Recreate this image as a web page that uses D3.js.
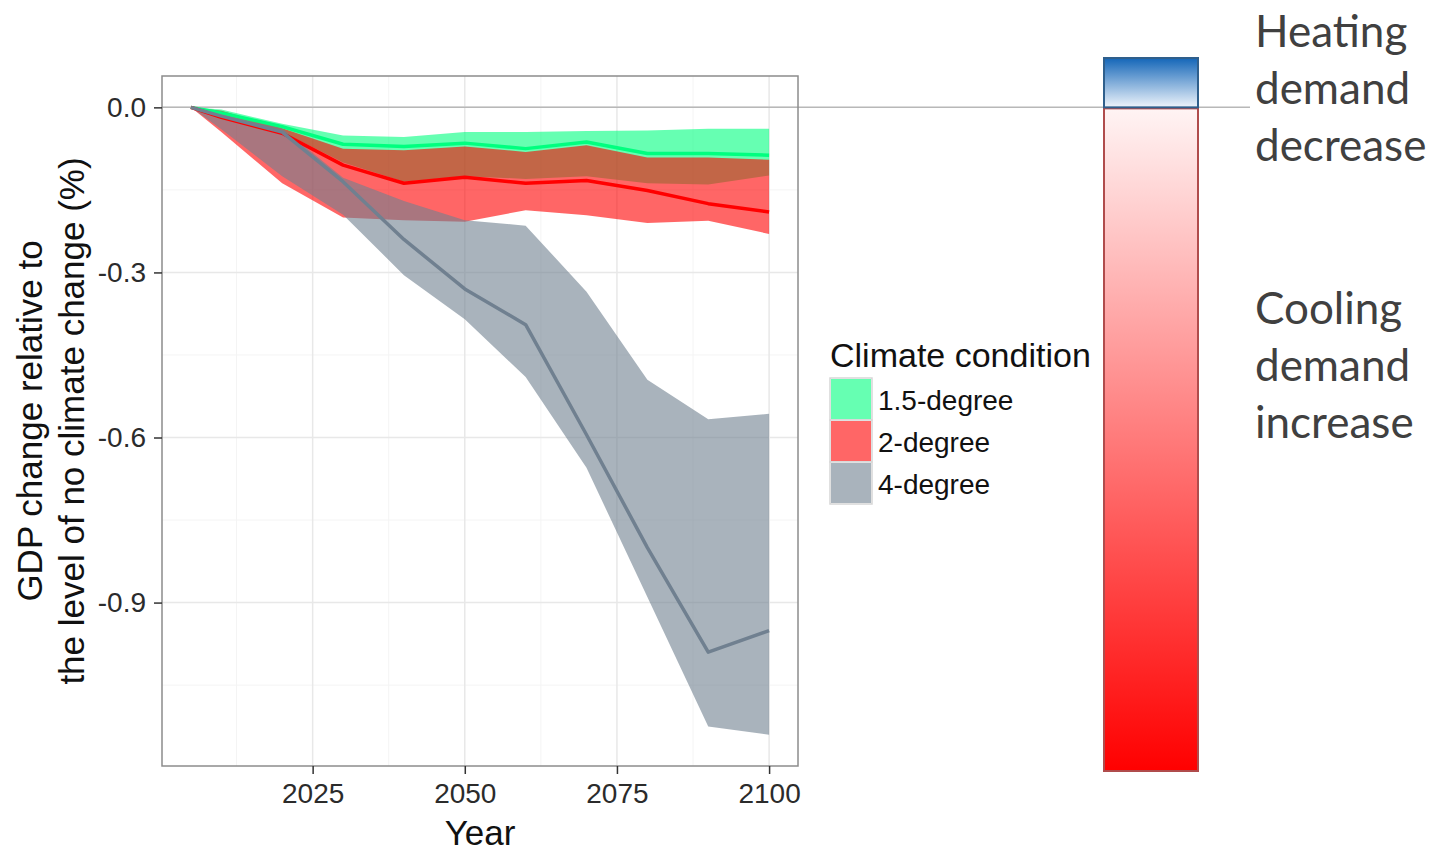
<!DOCTYPE html>
<html>
<head>
<meta charset="utf-8">
<script src="https://cdn.jsdelivr.net/npm/d3@7"></script>
<style>
  body { margin: 0; background: #fff; }
</style>
</head>
<body>
<div id="chart"></div>
<script>
// values
let years = [2005, 2010, 2020, 2030, 2040, 2050, 2060, 2070, 2080, 2090, 2100];

let deg15Mean = [0, -0.01, -0.035, -0.067, -0.071, -0.065, -0.075, -0.063, -0.084, -0.084, -0.087];
let deg15Low  = [0, -0.012, -0.045, -0.1, -0.135, -0.125, -0.13, -0.125, -0.138, -0.14, -0.124];
let deg15High = [0, -0.004, -0.03, -0.051, -0.054, -0.045, -0.045, -0.043, -0.042, -0.039, -0.039];

let deg2Mean = [0, -0.018, -0.047, -0.105, -0.138, -0.127, -0.138, -0.133, -0.151, -0.175, -0.19];
let deg2Low  = [0, -0.045, -0.138, -0.2, -0.205, -0.208, -0.187, -0.196, -0.21, -0.206, -0.23];
let deg2High = [0, -0.006, -0.038, -0.075, -0.078, -0.071, -0.081, -0.069, -0.091, -0.091, -0.095];

let deg4Mean = [0, -0.016, -0.045, -0.135, -0.24, -0.33, -0.395, -0.595, -0.8, -0.99, -0.951];
let deg4Low  = [0, -0.04, -0.125, -0.195, -0.305, -0.385, -0.49, -0.655, -0.89, -1.125, -1.14];
let deg4High = [0, -0.008, -0.038, -0.128, -0.17, -0.205, -0.215, -0.335, -0.495, -0.567, -0.557];

let seriesNames = ['1.5-degree', '2-degree', '4-degree'];
let seriesColors = ['#00ff7f', '#ff0000', '#708090'];

let xTicks = [2025, 2050, 2075, 2100];
let xMinor = [2012.5, 2037.5, 2062.5, 2087.5];
let yTicks = [0, -0.3, -0.6, -0.9];
let yMinor = [-0.15, -0.45, -0.75, -1.05];

let series = [
    {mean: deg15Mean, low: deg15Low, high: deg15High},
    {mean: deg2Mean, low: deg2Low, high: deg2High},
    {mean: deg4Mean, low: deg4Low, high: deg4High},
].map((s, i) => ({
    name: seriesNames[i],
    color: seriesColors[i],
    rows: years.map((yr, j) => ({year: yr, mean: s.mean[j], low: s.low[j], high: s.high[j]}))
}));

let pLeft = 162, pRight = 798, pTop = 76, pBottom = 766;
let sans = '"Liberation Sans", Arial, sans-serif';

let x = d3.scaleLinear().domain([2000.25, 2104.75]).range([pLeft, pRight]);
let y = d3.scaleLinear().domain([0.057, -1.197]).range([pTop, pBottom]);

let svg = d3.select('#chart')
            .append('svg')
            .attr('width', 1432)
            .attr('height', 851)
            .style('font-family', sans)

// grid
svg.selectAll('.vminor').data(xMinor).enter().append('line')
    .attr('x1', d => x(d)).attr('x2', d => x(d))
    .attr('y1', pTop).attr('y2', pBottom)
    .attr('stroke', '#f4f4f4').attr('stroke-width', 1)
svg.selectAll('.hminor').data(yMinor).enter().append('line')
    .attr('x1', pLeft).attr('x2', pRight)
    .attr('y1', d => y(d)).attr('y2', d => y(d))
    .attr('stroke', '#f4f4f4').attr('stroke-width', 1)
svg.selectAll('.vmajor').data(xTicks).enter().append('line')
    .attr('x1', d => x(d)).attr('x2', d => x(d))
    .attr('y1', pTop).attr('y2', pBottom)
    .attr('stroke', '#e8e8e8').attr('stroke-width', 1.5)
svg.selectAll('.hmajor').data(yTicks).enter().append('line')
    .attr('x1', pLeft).attr('x2', pRight)
    .attr('y1', d => y(d)).attr('y2', d => y(d))
    .attr('stroke', '#e8e8e8').attr('stroke-width', 1.5)

// zero line running out to the colour bar
svg.append('line')
    .attr('x1', pLeft).attr('x2', 1250)
    .attr('y1', y(0)).attr('y2', y(0))
    .attr('stroke', '#b8b8b8').attr('stroke-width', 1.5)

let area = d3.area()
    .x(d => x(d.year))
    .y0(d => y(d.low))
    .y1(d => y(d.high))
let line = d3.line()
    .x(d => x(d.year))
    .y(d => y(d.mean))

svg.selectAll('.band').data(series).enter().append('path')
    .attr('d', d => area(d.rows))
    .attr('fill', d => d.color)
    .attr('fill-opacity', 0.6)

svg.selectAll('.mean').data(series).enter().append('path')
    .attr('d', d => line(d.rows))
    .attr('fill', 'none')
    .attr('stroke', d => d.color)
    .attr('stroke-width', 3.5)
    .attr('stroke-linejoin', 'round')

// panel border
svg.append('rect')
    .attr('x', pLeft).attr('y', pTop)
    .attr('width', pRight - pLeft).attr('height', pBottom - pTop)
    .attr('fill', 'none')
    .attr('stroke', '#8c8c8c').attr('stroke-width', 1.5)

// axes
let xAxis = svg.append('g')
    .attr('transform', `translate(0,${pBottom})`)
    .call(d3.axisBottom(x).tickValues(xTicks).tickFormat(d3.format('d')).tickSize(8).tickPadding(9))
xAxis.select('.domain').remove()
xAxis.selectAll('line').attr('stroke', '#333').attr('stroke-width', 1.5)
xAxis.selectAll('text').attr('font-size', '28px').attr('font-family', sans).attr('fill', '#2b2b2b')

let yAxis = svg.append('g')
    .attr('transform', `translate(${pLeft},0)`)
    .call(d3.axisLeft(y).tickValues(yTicks).tickFormat(d => d.toFixed(1)).tickSize(8).tickPadding(8))
yAxis.select('.domain').remove()
yAxis.selectAll('line').attr('stroke', '#333').attr('stroke-width', 1.5)
yAxis.selectAll('text').attr('font-size', '28px').attr('font-family', sans).attr('fill', '#2b2b2b')

svg.append('text')
    .attr('x', 480).attr('y', 845)
    .attr('text-anchor', 'middle')
    .attr('font-size', '35px')
    .attr('fill', '#111')
    .text('Year')

let yTitle = svg.append('text')
    .attr('transform', `translate(42,${(pTop + pBottom) / 2}) rotate(-90)`)
    .attr('text-anchor', 'middle')
    .attr('font-size', '35px')
    .attr('fill', '#111')
yTitle.append('tspan').attr('x', 0).attr('dy', 0).text('GDP change relative to')
yTitle.append('tspan').attr('x', 0).attr('dy', 42).text('the level of no climate change (%)')

// legend
svg.append('text')
    .attr('x', 830).attr('y', 367)
    .attr('font-size', '34px')
    .attr('fill', '#111')
    .text('Climate condition')

let keys = svg.selectAll('.key').data(series).enter().append('g')
    .attr('transform', (d, i) => `translate(830,${378 + i * 42})`)
keys.append('rect')
    .attr('width', 42).attr('height', 42)
    .attr('fill', '#fff')
    .attr('stroke', '#d6d6d6').attr('stroke-width', 1.5)
keys.append('rect')
    .attr('x', 1).attr('y', 1)
    .attr('width', 40).attr('height', 40)
    .attr('fill', d => d.color)
    .attr('fill-opacity', 0.6)
keys.append('text')
    .attr('x', 48).attr('y', 32)
    .attr('font-size', '28px')
    .attr('fill', '#111')
    .text(d => d.name)

// colour bar
let defs = svg.append('defs')
let blueGrad = defs.append('linearGradient').attr('id', 'blueGrad')
    .attr('x1', 0).attr('x2', 0).attr('y1', 0).attr('y2', 1)
blueGrad.append('stop').attr('offset', '0%').attr('stop-color', '#1466b8')
blueGrad.append('stop').attr('offset', '100%').attr('stop-color', '#eef4fb')
let redGrad = defs.append('linearGradient').attr('id', 'redGrad')
    .attr('x1', 0).attr('x2', 0).attr('y1', 0).attr('y2', 1)
redGrad.append('stop').attr('offset', '0%').attr('stop-color', '#fff4f4')
redGrad.append('stop').attr('offset', '100%').attr('stop-color', '#ff0000')

svg.append('rect')
    .attr('x', 1104).attr('y', y(0) + 1)
    .attr('width', 94).attr('height', 771 - y(0) - 1)
    .attr('fill', 'url(#redGrad)')
    .attr('stroke', '#b04c4c').attr('stroke-width', 2)
svg.append('rect')
    .attr('x', 1104).attr('y', 58)
    .attr('width', 94).attr('height', y(0) - 58)
    .attr('fill', 'url(#blueGrad)')
    .attr('stroke', '#2f5f8c').attr('stroke-width', 2)

let notes = [
    {lines: ['Heating', 'demand', 'decrease'], y: 47},
    {lines: ['Cooling', 'demand', 'increase'], y: 324},
]
notes.forEach(n => {
    svg.selectAll(null).data(n.lines).enter().append('text')
        .attr('x', 1255)
        .attr('y', (d, i) => n.y + i * 57)
        .style('font-family', 'Lato, "Open Sans", sans-serif')
        .attr('font-size', '44px')
        .attr('fill', '#404040')
        .text(d => d)
})
</script>
</body>
</html>
